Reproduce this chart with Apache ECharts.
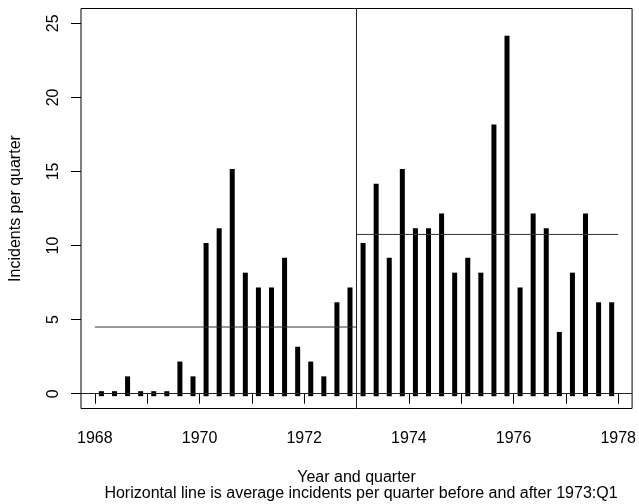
<!DOCTYPE html>
<html>
<head>
<meta charset="utf-8">
<script src="https://cdn.jsdelivr.net/npm/echarts@6/dist/echarts.min.js"></script>
<style>
    html, body { margin: 0; padding: 0; background: #fff; }
    #chart { width: 639px; height: 504px; }
</style>
</head>
<body>
<div id="chart"></div>
<script>
    // quarter mid-points, 1968:Q1 .. 1977:Q4
    const quarterTimes = [
        1968.125, 1968.375, 1968.625, 1968.875, 1969.125, 1969.375, 1969.625, 1969.875,
        1970.125, 1970.375, 1970.625, 1970.875, 1971.125, 1971.375, 1971.625, 1971.875,
        1972.125, 1972.375, 1972.625, 1972.875, 1973.125, 1973.375, 1973.625, 1973.875,
        1974.125, 1974.375, 1974.625, 1974.875, 1975.125, 1975.375, 1975.625, 1975.875,
        1976.125, 1976.375, 1976.625, 1976.875, 1977.125, 1977.375, 1977.625, 1977.875
    ];
    const incidentsBefore = [0, 0, 1, 0, 0, 0, 2, 1, 10, 11, 15, 8, 7, 7, 9, 3, 2, 1, 6, 7];
    const incidentsAfter = [10, 14, 9, 15, 11, 11, 12, 8, 9, 8, 18, 24, 7, 12, 11, 4, 8, 12, 6, 6];
    const meanBefore = [[1968, 4.5], [1973, 4.5]];
    const meanAfter = [[1973, 10.75], [1978, 10.75]];
    const xTicks = [1968, 1969, 1970, 1971, 1972, 1973, 1974, 1975, 1976, 1977, 1978];
    const xLabels = [1968, 1970, 1972, 1974, 1976, 1978];
    const yLabels = [0, 5, 10, 15, 20, 25];
    const breakYear = 1973;

    let incidents = incidentsBefore.concat(incidentsAfter);
    let barData = quarterTimes.map((t, i) => [t, incidents[i]]);

    let myChart = echarts.init(document.getElementById('chart'));
    const font = 'Liberation Sans, Arial, sans-serif';

    myChart.setOption({
        animation: false,
        textStyle: { fontFamily: font },
        title: {
            text: 'Horizontal line is average incidents per quarter before and after 1973:Q1',
            left: 356, top: 481, textAlign: 'center',
            textStyle: { fontSize: 16, fontWeight: 'normal', color: '#000', fontFamily: font }
        },
        grid: {
            left: 80.5, right: 5.5, top: 8.5, bottom: 95.5,
            show: true, borderColor: '#000', borderWidth: 1, backgroundColor: 'transparent'
        },
        xAxis: {
            type: 'value',
            min: 1967.735, max: 1978.265,
            name: 'Year and quarter', nameLocation: 'middle', nameGap: 61,
            nameTextStyle: { fontSize: 16, color: '#000' },
            axisLine: { show: false },
            splitLine: { show: false },
            axisTick: { show: true, length: 10, customValues: xTicks, lineStyle: { color: '#000' } },
            axisLabel: {
                customValues: xLabels, fontSize: 16, color: '#000', margin: 22,
                formatter: v => String(v)
            }
        },
        yAxis: {
            type: 'value',
            min: -1, max: 26,
            name: 'Incidents per quarter', nameLocation: 'middle', nameGap: 57,
            nameTextStyle: { fontSize: 16, color: '#000' },
            axisLine: { show: false },
            splitLine: { show: false },
            axisTick: { show: true, length: 10, customValues: yLabels, lineStyle: { color: '#000' } },
            axisLabel: { customValues: yLabels, fontSize: 16, color: '#000', rotate: 90, margin: 19 }
        },
        series: [
            {
                type: 'custom',
                data: barData,
                renderItem: function (params, api) {
                    let base = api.coord([api.value(0), 0]);
                    let top = api.coord([api.value(0), api.value(1)]);
                    return {
                        type: 'rect',
                        shape: { x: base[0] - 2.5, y: top[1] - 2.5, width: 5, height: base[1] - top[1] + 5 },
                        style: { fill: '#000' }
                    };
                },
                markLine: {
                    silent: true, symbol: 'none', label: { show: false },
                    lineStyle: { color: '#222', width: 1, type: 'solid' },
                    data: [{ yAxis: 0 }, { xAxis: breakYear }]
                }
            },
            {
                type: 'line', data: meanBefore, symbol: 'none',
                lineStyle: { color: '#333', width: 1 }
            },
            {
                type: 'line', data: meanAfter, symbol: 'none',
                lineStyle: { color: '#333', width: 1 }
            }
        ]
    });
</script>
</body>
</html>
